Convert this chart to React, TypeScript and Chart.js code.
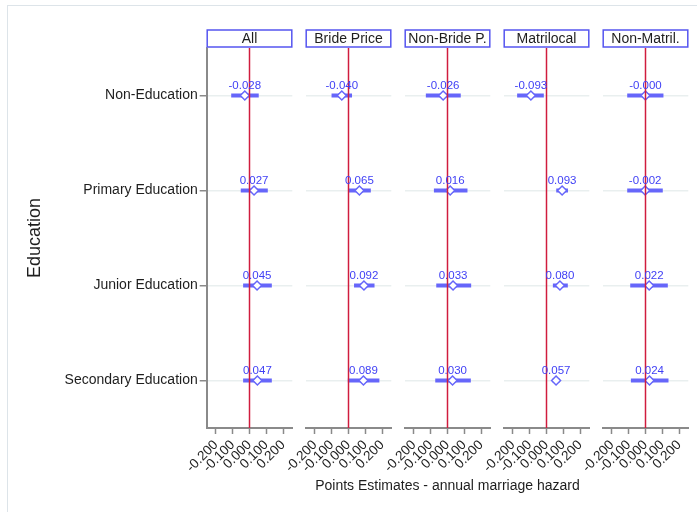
import React, { useEffect, useRef } from 'react';
import { Chart, registerables } from 'chart.js';

Chart.register(...registerables);

const FONT = 'Arial, "Liberation Sans", sans-serif';

const categories = ['Non-Education', 'Primary Education', 'Junior Education', 'Secondary Education'];
const panelTitles = ['All', 'Bride Price', 'Non-Bride P.', 'Matrilocal', 'Non-Matril.'];
const xTickValues = [-0.2, -0.1, 0, 0.1, 0.2];
const xRange = [-0.255, 0.255];
const zeroLineX = [0, 0];
const xAxisTitle = 'Points Estimates - annual marriage hazard';
const yAxisTitle = 'Education';

// point estimates per group (rows = categories)
const estAll = [-0.028, 0.027, 0.045, 0.047];
const estBride = [-0.04, 0.065, 0.092, 0.089];
const estNonBride = [-0.026, 0.016, 0.033, 0.03];
const estMatri = [-0.093, 0.093, 0.08, 0.057];
const estNonMatri = [-0.0004, -0.002, 0.022, 0.024];

// confidence interval bounds
const ciLowAll = [-0.109, -0.052, -0.038, -0.038];
const ciHighAll = [0.055, 0.109, 0.133, 0.133];
const ciLowBride = [-0.101, 0.002, 0.033, -0.004];
const ciHighBride = [0.021, 0.133, 0.155, 0.184];
const ciLowNonBride = [-0.129, -0.081, -0.067, -0.073];
const ciHighNonBride = [0.079, 0.119, 0.141, 0.139];
const ciLowMatri = [-0.175, 0.058, 0.038, 0.036];
const ciHighMatri = [-0.016, 0.128, 0.127, 0.078];
const ciLowNonMatri = [-0.109, -0.109, -0.091, -0.087];
const ciHighNonMatri = [0.107, 0.103, 0.133, 0.137];

const estimates = [estAll, estBride, estNonBride, estMatri, estNonMatri];
const ciLows = [ciLowAll, ciLowBride, ciLowNonBride, ciLowMatri, ciLowNonMatri];
const ciHighs = [ciHighAll, ciHighBride, ciHighNonBride, ciHighMatri, ciHighNonMatri];

const BLUE = '#6666fa';
const LABEL_BLUE = '#3f3ff5';
const RED = '#d01c3e';
const AXIS_GRAY = '#8a8a8a';
const TEXT = '#1e1e1e';

const W = 697;
const H = 512;
const PANEL_LEFT0 = 206.7;
const PANEL_STEP = 99;
const PANEL_WIDTH = 85.6;
const PLOT_TOP = 48;
const X_AXIS_H = 70;
const BOTTOM_PAD = 14;
const Y_AXIS_W = 186.5;
const HEADER_H = 18;

const headerPlugin = {
  id: 'headerBox',
  afterDraw(chart: any) {
    const { ctx, chartArea } = chart;
    const title = chart.options.plugins.headerBox.text;
    const x0 = chartArea.left;
    const x1 = chartArea.right;
    const y1 = chartArea.top - 0.5;
    const y0 = y1 - HEADER_H;
    ctx.save();
    ctx.fillStyle = '#ffffff';
    ctx.fillRect(x0, y0, x1 - x0, HEADER_H);
    ctx.strokeStyle = '#5555f0';
    ctx.lineWidth = 1.5;
    ctx.strokeRect(x0 + 0.5, y0 + 0.5, x1 - x0 - 1, HEADER_H - 1);
    ctx.fillStyle = TEXT;
    ctx.font = `14px ${FONT}`;
    ctx.textAlign = 'center';
    ctx.textBaseline = 'middle';
    ctx.fillText(title, (x0 + x1) / 2, (y0 + y1) / 2 + 1);
    ctx.restore();
  },
};

const bottomTitlePlugin = {
  id: 'bottomTitle',
  afterDraw(chart: any) {
    const text = chart.options.plugins.bottomTitle.text;
    if (!text) return;
    const { ctx, chartArea } = chart;
    ctx.save();
    ctx.fillStyle = TEXT;
    ctx.font = `14px ${FONT}`;
    ctx.textAlign = 'center';
    ctx.textBaseline = 'alphabetic';
    ctx.fillText(text, (chartArea.left + chartArea.right) / 2, chartArea.bottom + 62);
    ctx.restore();
  },
};

const valueLabelPlugin = {
  id: 'valueLabels',
  afterDatasetsDraw(chart: any) {
    const idx = chart.data.datasets.findIndex((d: any) => d.isEstimate);
    if (idx < 0) return;
    const meta = chart.getDatasetMeta(idx);
    const ds = chart.data.datasets[idx];
    const { ctx } = chart;
    ctx.save();
    ctx.fillStyle = LABEL_BLUE;
    ctx.font = `11.5px ${FONT}`;
    ctx.textAlign = 'center';
    ctx.textBaseline = 'alphabetic';
    meta.data.forEach((pt: any, j: number) => {
      const v = ds.data[j].x as number;
      ctx.fillText(v.toFixed(3), pt.x, pt.y - 7);
    });
    ctx.restore();
  },
};

function makeConfig(i: number): any {
  const est = estimates[i];
  const lo = ciLows[i];
  const hi = ciHighs[i];
  const first = i === 0;
  const left = PANEL_LEFT0 + PANEL_STEP * i;
  const right = left + PANEL_WIDTH;

  const datasets: any[] = [];
  datasets.push({
    data: [
      { x: zeroLineX[0], y: 0.5 },
      { x: zeroLineX[1], y: 4.5 },
    ],
    showLine: true,
    borderColor: RED,
    borderWidth: 1.5,
    pointRadius: 0,
    order: 0,
  });
  categories.forEach((_, j) => {
    datasets.push({
      data: [
        { x: lo[j], y: j + 1 },
        { x: hi[j], y: j + 1 },
      ],
      showLine: true,
      borderColor: BLUE,
      borderWidth: 4,
      borderCapStyle: 'butt',
      pointRadius: 0,
      order: 2,
    });
  });
  datasets.push({
    isEstimate: true,
    data: est.map((v, j) => ({ x: v, y: j + 1 })),
    showLine: false,
    pointStyle: 'rectRot',
    pointRadius: 4.5,
    pointBackgroundColor: '#ffffff',
    pointBorderColor: BLUE,
    pointBorderWidth: 1.5,
    order: 1,
  });

  return {
    type: 'scatter',
    data: { datasets },
    plugins: [headerPlugin, valueLabelPlugin, bottomTitlePlugin],
    options: {
      responsive: false,
      animation: false,
      events: [],
      layout: {
        padding: {
          left: left - (first ? Y_AXIS_W : 0),
          right: W - right,
          top: PLOT_TOP,
          bottom: BOTTOM_PAD,
        },
      },
      plugins: {
        legend: { display: false },
        tooltip: { enabled: false },
        headerBox: { text: panelTitles[i] },
        bottomTitle: { text: i === 2 ? xAxisTitle : '' },
      },
      scales: {
        x: {
          type: 'linear',
          min: xRange[0],
          max: xRange[1],
          afterBuildTicks: (s: any) => {
            s.ticks = xTickValues.map((v) => ({ value: v }));
          },
          afterFit: (s: any) => {
            s.height = X_AXIS_H;
            s.paddingLeft = 0;
            s.paddingRight = 0;
          },
          ticks: {
            autoSkip: false,
            minRotation: 45,
            maxRotation: 45,
            padding: 3,
            color: TEXT,
            font: { size: 13.5, family: FONT },
            callback: (v: any) => Number(v).toFixed(3),
          },
          grid: {
            drawOnChartArea: false,
            drawTicks: true,
            tickLength: 6,
            tickColor: AXIS_GRAY,
            tickWidth: 1.5,
          },
          border: { display: true, color: AXIS_GRAY, width: 2 },
        },
        y: {
          type: 'linear',
          min: 0.5,
          max: 4.5,
          reverse: true,
          afterBuildTicks: (s: any) => {
            s.ticks = categories.map((_, j) => ({ value: j + 1 }));
          },
          afterFit: (s: any) => {
            s.width = first ? Y_AXIS_W : 0;
            s.paddingTop = 0;
            s.paddingBottom = 0;
          },
          ticks: {
            display: first,
            padding: 2,
            color: TEXT,
            font: { size: 14, family: FONT },
            callback: (v: any) => categories[Math.round(Number(v)) - 1],
          },
          grid: {
            color: '#e9efef',
            lineWidth: 1.5,
            drawTicks: first,
            tickLength: 7,
            tickColor: AXIS_GRAY,
            tickWidth: 1.5,
          },
          border: { display: first, color: AXIS_GRAY, width: 2 },
          title: {
            display: first,
            text: yAxisTitle,
            color: TEXT,
            font: { size: 18, family: FONT },
          },
        },
      },
    },
  };
}

export default function App() {
  const refs = useRef<(HTMLCanvasElement | null)[]>([]);
  useEffect(() => {
    const charts = refs.current.map((c, i) => (c ? new Chart(c, makeConfig(i)) : null));
    return () => {
      charts.forEach((ch) => ch && ch.destroy());
    };
  }, []);
  return (
    <div
      style={{
        position: 'absolute',
        left: 0,
        top: 0,
        width: W,
        height: H,
        overflow: 'hidden',
        background: '#ffffff',
      }}
    >
      <div
        style={{
          position: 'absolute',
          left: 7,
          top: 5,
          width: 760,
          height: 560,
          border: '1px solid #dde4e9',
        }}
      />
      {panelTitles.map((p, i) => (
        <canvas
          key={p}
          ref={(el) => {
            refs.current[i] = el;
          }}
          width={W}
          height={H}
          style={{ position: 'absolute', left: 0, top: 0 }}
        />
      ))}
    </div>
  );
}
